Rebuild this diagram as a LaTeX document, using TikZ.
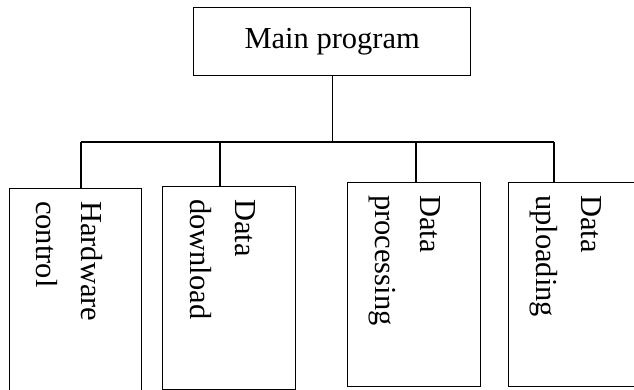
\documentclass[tikz,border=0pt]{standalone}
\usepackage{fontspec}
\setmainfont{Liberation Serif}
\usetikzlibrary{positioning,calc}

\begin{document}
\begin{tikzpicture}[x=1pt,y=-1pt,
    every node/.style={font=\fontsize{30.5}{45}\selectfont},
    box/.style={draw,line width=1.4pt,anchor=north west,inner sep=0pt},
    lbl/.style={rotate=-90,anchor=north west,align=left,inner sep=0pt}]
    \useasboundingbox (0,0) rectangle (634,390);
    \clip (0,0) rectangle (634,390);

    % top box
    \node[box,minimum width=277pt,minimum height=68pt] at (193,7) (main) {Main program};

    % second level
    \node[box,minimum width=132pt,minimum height=215pt] at (9,188) (hw) {};
    \node[box,minimum width=133pt,minimum height=203pt] at (162,186) (dl) {};
    \node[box,minimum width=133pt,minimum height=204pt] at (347,182) (dp) {};
    \node[box,minimum width=137pt,minimum height=204pt] at (508,182) (du) {};

    \node[lbl] at ([xshift=94pt,yshift=-13pt]hw.north west) (hwt) {Hardware\\control};
    \node[lbl] at ([xshift=94pt,yshift=-13pt]dl.north west) (dlt) {Data\\download};
    \node[lbl] at ([xshift=94pt,yshift=-13pt]dp.north west) (dpt) {Data\\processing};
    \node[lbl] at ([xshift=94pt,yshift=-13pt]du.north west) (dut) {Data\\uploading};

    % connections
    \coordinate (bus) at (main.south |- 0,142);
    \draw[line width=1.1pt] (main.south) -- (bus);
    \draw[line width=1.1pt] (bus -| 81,0) -- (bus -| 554,0);
    \foreach \b/\x in {hw/81,dl/220,dp/416,du/554}
        \draw[line width=1.1pt] (bus -| \x,0) -- (\b.north -| \x,0);
\end{tikzpicture}
\end{document}
